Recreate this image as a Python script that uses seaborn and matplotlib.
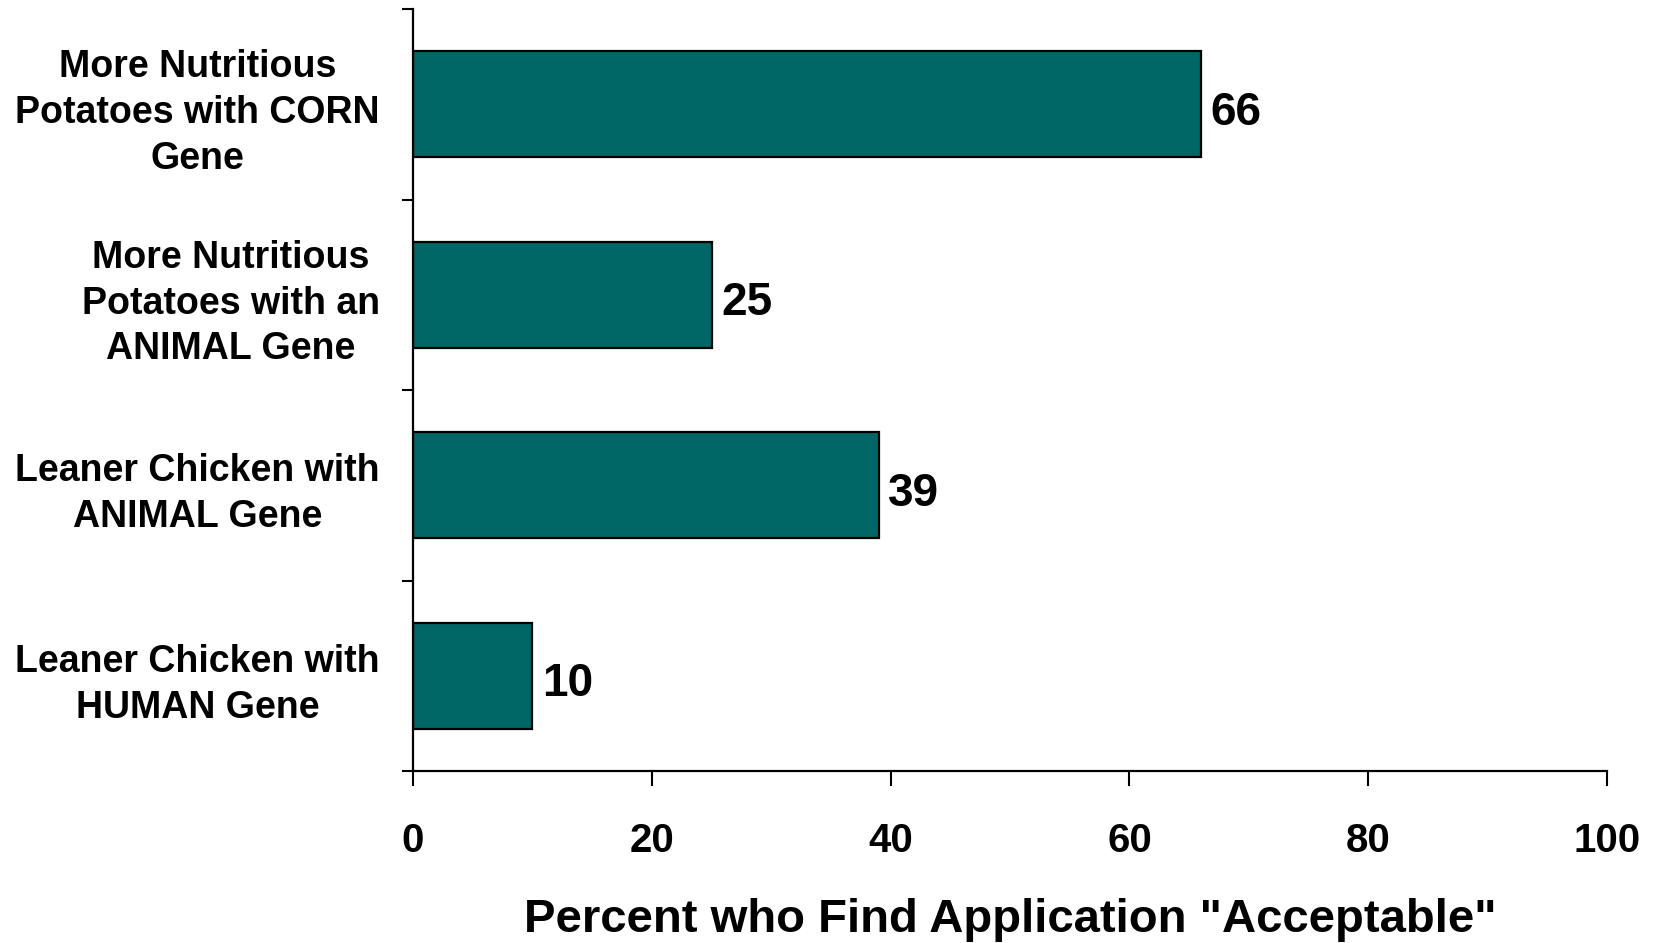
import matplotlib
matplotlib.use("Agg")
import matplotlib.pyplot as plt
import seaborn as sns
import pandas as pd
from matplotlib.ticker import FixedLocator

categories = [
    "More Nutritious\nPotatoes with CORN\nGene",
    "More Nutritious\nPotatoes with an\nANIMAL Gene",
    "Leaner Chicken with\nANIMAL Gene",
    "Leaner Chicken with\nHUMAN Gene",
]
values = [66, 25, 39, 10]
x_ticks = [0, 20, 40, 60, 80, 100]
x_label = 'Percent who Find Application "Acceptable"'

sns.set_style("white")
plt.rcParams["font.family"] = ["Liberation Sans", "DejaVu Sans"]
plt.rcParams["font.weight"] = "bold"
plt.rcParams["text.color"] = "black"
plt.rcParams["axes.labelcolor"] = "black"
plt.rcParams["xtick.color"] = "black"
plt.rcParams["ytick.color"] = "black"

df = pd.DataFrame({"category": categories, "value": values})

fig = plt.figure(figsize=(16.53, 9.43), dpi=100)
ax = fig.add_axes([413 / 1653, 1 - 771 / 943, (1607 - 413) / 1653, (771 - 9) / 943])

sns.barplot(data=df, x="value", y="category", orient="h", color="#006666",
            saturation=1, width=0.556, edgecolor="black", linewidth=1.6, ax=ax)

ax.set_xlim(0, 100)
ax.set_ylim(3.5, -0.5)
ax.set_xticks(x_ticks)
ax.set_xticklabels([str(t) for t in x_ticks], fontsize=29, fontweight="bold", color="black")

# category labels
ax.set_yticks(range(len(categories)))
ax.set_yticklabels(categories, fontsize=27, fontweight="bold", color="black")
for lab in ax.get_yticklabels():
    lab.set_multialignment("center")
    lab.set_linespacing(1.35)
ax.tick_params(axis="y", which="major", length=0, pad=24)
ax.yaxis.set_minor_locator(FixedLocator([-0.5, 0.5, 1.5, 2.5, 3.5]))
ax.tick_params(axis="y", which="minor", length=8, width=1.5, color="black", direction="out", left=True)
ax.tick_params(axis="x", which="major", length=11, width=1.5, color="black", direction="out", pad=26, bottom=True)

for s in ["top", "right"]:
    ax.spines[s].set_visible(False)
for s in ["left", "bottom"]:
    ax.spines[s].set_color("black")
    ax.spines[s].set_linewidth(1.6)

ax.set_ylabel("")
ax.set_xlabel(x_label, fontsize=34, fontweight="bold", labelpad=27, color="black")

for i, v in enumerate(values):
    ax.annotate(str(v), xy=(v, i), xytext=(7, -6), textcoords="offset points",
                ha="left", va="center", fontsize=33, fontweight="bold", color="black")

fig.savefig("out.png", dpi=100, facecolor="white")
